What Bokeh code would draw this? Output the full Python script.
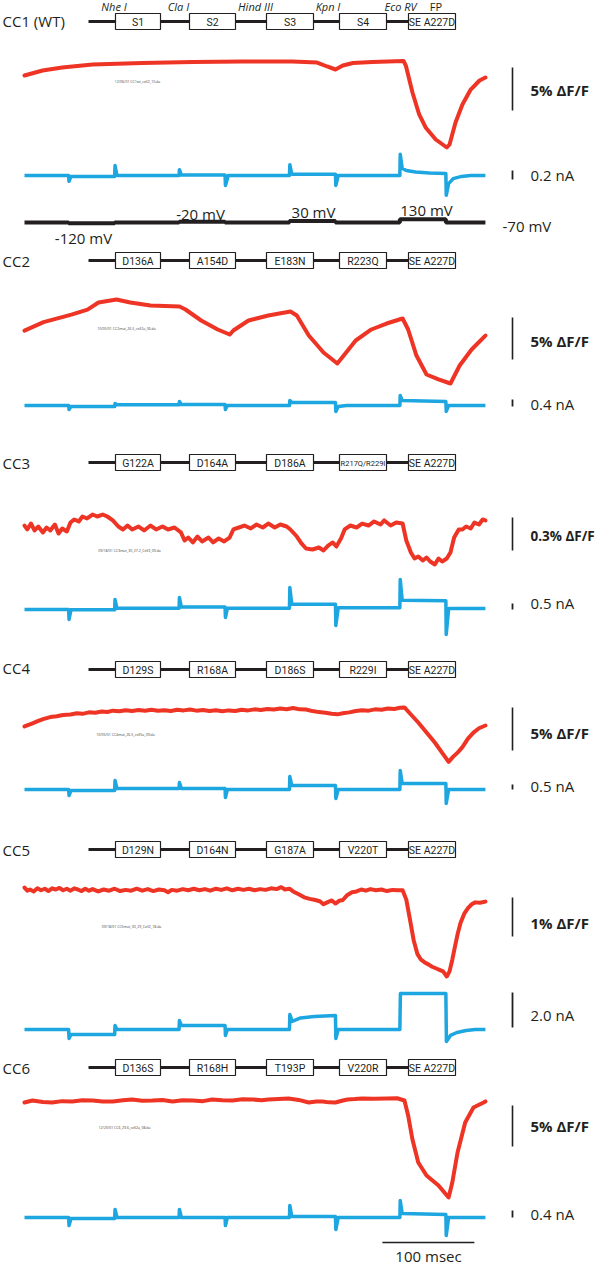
from bokeh.plotting import figure
from bokeh.models import Range1d
from bokeh.embed import file_html
from bokeh.resources import INLINE
from bokeh.core.properties import value

# ------------------------------------------------------------------ data
# voltage protocol (ms boundaries, mV levels)
step_t = [0, 48, 98, 168, 218, 288, 338, 408, 458, 501]
step_mV = [-70, -120, -70, -20, -70, 30, -70, 130, -70]
step_labels = ["-120 mV", "-20 mV", "30 mV", "130 mV", "-70 mV"]

titles = ["CC1 (WT)", "CC2", "CC3", "CC4", "CC5", "CC6"]
sites = ["Nhe I", "Cla I", "Hind III", "Kpn I", "Eco RV", "FP"]
boxes = [
    ["S1", "S2", "S3", "S4", "SE A227D"],
    ["D136A", "A154D", "E183N", "R223Q", "SE A227D"],
    ["G122A", "D164A", "D186A", "R217Q/R229I", "SE A227D"],
    ["D129S", "R168A", "D186S", "R229I", "SE A227D"],
    ["D129N", "D164N", "G187A", "V220T", "SE A227D"],
    ["D136S", "R168H", "T193P", "V220R", "SE A227D"],
]
dff_bar = [5, 5, 0.3, 5, 1, 5]          # %dF/F
dff_bar_txt = ["5% ΔF/F", "5% ΔF/F", "0.3% ΔF/F", "5% ΔF/F", "1% ΔF/F", "5% ΔF/F"]
nA_bar = [0.2, 0.4, 0.5, 0.5, 2.0, 0.4]
nA_bar_txt = ["0.2 nA", "0.4 nA", "0.5 nA", "0.5 nA", "2.0 nA", "0.4 nA"]
file_names = ["12/06/01 CC1wt_cell2_10.da", "10/05/01 CC2mut_26.5_cell2a_06.da",
              "09/18/01 CC3mut_30_27.2_Cell3_09.da", "10/05/01 CC4mut_26.5_cell5a_09.da",
              "09/18/01 CC5mut_30_29_Cell2_18.da", "12/20/01 CC6_29.6_cell2a_08.da"]

# fluorescence traces (ms, %dF/F)
cc1_t = [0, 19.6, 41, 74, 128, 183, 237, 291, 318, 329, 338, 346, 357, 378, 412, 414.5,
         421.7, 429, 436, 447, 459, 462, 468.5, 476, 485, 494.6, 501]
cc1_dff = [-1.63, -1.05, -0.70, -0.35, -0.17, -0.06, 0.0, 0.0, -0.12, -0.58, -0.93, -0.47,
           -0.17, -0.06, 0.06, -0.47, -3.6, -6.16, -7.67, -9.07, -10.0, -9.65, -7.09, -5.0,
           -3.26, -2.21, -1.86]

cc2_t = [0, 20.7, 51, 68.5, 80.4, 100, 115, 137, 168.5, 175, 192, 210, 223, 227, 243.5, 265,
         289, 296, 309, 325, 340, 347, 360, 377, 393.5, 411, 417, 426, 437, 450, 463, 473, 486, 501]
cc2_dff = [-3.7, -2.7, -1.8, -1.2, -0.36, 0, -0.36, -0.71, -0.83, -1.19, -2.5, -3.57, -4.17,
           -3.69, -2.5, -1.9, -1.43, -1.9, -4.29, -6.31, -7.62, -6.67, -4.88, -3.57, -2.86,
           -2.26, -3.57, -6.67, -8.93, -9.52, -10.0, -7.86, -5.95, -4.29]

cc3_t = [0, 3, 7, 11, 15, 20, 24, 28, 33, 37, 41, 46, 50, 54, 59, 63, 68, 74, 79, 85,
         90, 96, 102, 107, 112, 117, 124, 130, 137, 143, 150, 156, 163, 170, 174, 178, 183, 188, 193, 200,
         205, 211, 217, 223, 227, 233, 239, 246, 252, 259, 265, 272, 278, 285, 289, 296, 301, 306, 313, 320,
         325, 330, 335, 339, 344, 348, 354, 361, 367, 374, 380, 387, 391, 398, 404, 411, 415, 420, 424, 428,
         433, 437, 441, 446, 450, 454, 459, 463, 467, 472, 476, 480, 485, 489, 494, 498, 501]
cc3_dff = [0.018, -0.018, 0.036, -0.027, 0.009, -0.045, 0.0, -0.027, 0.027, -0.055,
           -0.009, -0.036, 0.045, 0.073, 0.055, 0.1, 0.082, 0.118, 0.1, 0.118,
           0.1, 0.064, 0.009, -0.018, 0.018, -0.018, 0.009, -0.027, 0.018, -0.018,
           0.009, -0.018, 0.0, -0.045, -0.118, -0.091, -0.136, -0.082, -0.127, -0.091,
           -0.136, -0.1, -0.127, -0.091, -0.018, 0.0, 0.018, -0.009, 0.027, 0.0,
           0.036, 0.0, 0.027, 0.009, -0.018, -0.082, -0.145, -0.191, -0.2, -0.182,
           -0.209, -0.164, -0.136, -0.173, -0.1, -0.018, 0.018, 0.0, 0.036, 0.018,
           0.055, 0.027, 0.064, 0.018, 0.045, 0.036, -0.118, -0.227, -0.282, -0.264,
           -0.3, -0.273, -0.309, -0.336, -0.282, -0.309, -0.282, -0.227, -0.091, -0.018,
           -0.018, 0.009, -0.009, 0.045, 0.027, 0.073, 0.064]

cc4_t = [0, 8, 15, 21, 28, 35, 42, 50, 57, 63, 70, 77, 84, 90, 96, 103, 110, 117, 124, 131,
         138, 145, 152, 159, 166, 173, 180, 187, 194, 201, 208, 215, 222, 229, 236, 243, 250, 257, 264, 271,
         278, 285, 292, 299, 306, 313, 320, 327, 334, 340, 346, 353, 360, 367, 374, 381, 388, 395, 402, 408,
         413, 420, 428, 437, 446, 455, 461, 466, 471, 476, 482, 488, 494, 501]
cc4_dff = [-2.09, -1.75, -1.45, -1.2, -1.0, -0.9, -0.75, -0.7, -0.55, -0.62,
           -0.45, -0.5, -0.35, -0.4, -0.25, -0.32, -0.2, -0.28, -0.18, -0.25,
           -0.15, -0.27, -0.2, -0.28, -0.15, -0.22, -0.12, -0.25, -0.18, -0.3,
           -0.2, -0.32, -0.22, -0.3, -0.15, -0.22, -0.1, -0.18, -0.05, -0.12,
           0.0, -0.08, 0.05, -0.1, -0.12, -0.3, -0.42, -0.5, -0.62, -0.68,
           -0.55, -0.45, -0.3, -0.2, -0.25, -0.1, -0.15, 0.0, -0.05, 0.08,
           0.12, -0.7, -1.63, -2.8, -3.95, -5.3, -6.2, -5.6, -5.1, -4.5,
           -3.5, -2.8, -2.3, -1.98]

cc5_t = [0, 3, 6, 10, 14, 18, 22, 26, 30, 34, 38, 42, 46, 50, 54, 58, 62, 66, 70, 74,
         80, 86, 92, 98, 104, 110, 116, 122, 128, 134, 140, 146, 152, 156, 160, 166, 172, 178, 184, 190,
         196, 202, 208, 214, 220, 226, 232, 238, 244, 250, 256, 262, 268, 274, 279, 283, 288, 292, 298, 304,
         310, 316, 321, 325, 329, 334, 338, 342, 346, 351, 356, 361, 366, 371, 376, 382, 388, 394, 400, 406,
         411, 415, 419, 423, 427, 431, 435, 439, 443, 447, 451, 455, 459, 462, 465, 468, 471, 474, 478, 482,
         486, 490, 495, 501]
cc5_dff = [0.05, -0.03, 0.0, -0.05, 0.03, -0.02, 0.02, -0.04, 0.03, 0.0,
           0.04, -0.02, 0.02, -0.03, 0.03, 0.0, -0.04, 0.02, -0.03, 0.01,
           -0.05, 0.0, -0.03, 0.02, -0.04, -0.01, -0.03, 0.02, -0.03, 0.01,
           -0.04, 0.0, -0.02, -0.07, -0.01, -0.03, 0.01, -0.02, 0.02, -0.02,
           0.01, -0.03, 0.02, -0.01, 0.03, -0.02, 0.02, -0.01, 0.02, -0.02,
           0.01, -0.01, 0.03, 0.01, 0.06, 0.0, 0.02, -0.05, -0.12, -0.2,
           -0.24, -0.27, -0.3, -0.38, -0.33, -0.28, -0.36, -0.29, -0.27, -0.14,
           -0.07, -0.05, 0.0, -0.03, 0.01, -0.02, 0.0, -0.04, -0.01, -0.02,
           -0.02, -0.26, -0.77, -1.3, -1.65, -1.8, -1.87, -1.92, -1.98, -2.02,
           -2.06, -2.1, -2.23, -2.1, -1.8, -1.45, -1.12, -0.85, -0.62, -0.48,
           -0.38, -0.33, -0.34, -0.31]

cc6_t = [0, 8.7, 20, 30, 41, 52, 63, 74, 85, 96, 107, 117, 128, 139, 150, 161, 172, 183, 194, 204,
         215, 226, 237, 248, 258, 265, 276, 287, 298, 309, 317, 324, 331, 338, 345, 351, 359, 367, 380, 393.5,
         405, 413, 417, 421.7, 428, 437, 450, 461, 465, 470.7, 479, 488, 499, 501]
cc6_dff = [-0.37, -0.12, -0.3, -0.37, -0.2, -0.24, -0.1, -0.12, -0.25, -0.24,
           -0.1, 0.0, -0.15, -0.12, -0.05, -0.24, -0.1, -0.12, -0.2, 0.0,
           -0.1, -0.12, 0.02, 0.0, -0.1, 0.0, 0.05, 0.12, -0.05, -0.37,
           -0.25, -0.24, -0.35, -0.37, -0.15, 0.0, 0.05, 0.12, 0.1, 0.12,
           0.15, -0.12, -1.95, -4.88, -7.68, -9.27, -10.49, -11.95, -10.12, -6.46,
           -2.80, -0.98, -0.37, -0.24]

# current traces (ms, nA)
cc1_it = [0, 48, 48.4, 50.5, 98, 98.4, 100.5, 168, 168.4, 170.5, 218, 218.4, 221.5, 288, 288.4,
          290.5, 338, 338.4, 341, 408, 408.4, 410.5, 415, 425, 440, 458, 458.4, 461, 466, 475, 485, 501]
cc1_nA = [0, 0, -0.13, -0.02, -0.02, 0.22, 0, 0, 0.13, 0.01, 0.01, -0.22, 0, 0, 0.24,
          0.03, 0.03, -0.22, 0, 0, 0.47, 0.16, 0.11, 0.08, 0.055, 0.045, -0.44, -0.18, -0.07, -0.02, 0, 0]
cc2_it = [0, 48, 48.4, 50.5, 98, 98.4, 100.5, 168, 168.4, 170.5, 218, 218.4, 220.5, 288, 288.4,
          290.5, 338, 338.4, 341, 350, 408, 408.4, 410.5, 458, 458.4, 461, 501]
cc2_nA = [0, 0, -0.23, -0.06, -0.06, 0.11, 0.04, 0.04, 0.23, 0.06, 0.06, -0.23, 0, 0, 0.29,
          0.17, 0.17, -0.34, -0.06, 0, 0, 0.57, 0.29, 0.23, -0.34, 0, 0]
cc3_it = [0, 48, 48.4, 50.5, 98, 98.4, 100.5, 168, 168.4, 170.5, 218, 218.4, 220.5, 288, 288.4,
          290.5, 338, 338.4, 341, 408, 408.4, 410.5, 458, 458.4, 461, 501]
cc3_nA = [0, 0, -0.83, -0.03, -0.03, 0.83, 0.1, 0.1, 1.0, 0.2, 0.2, -0.67, 0.1, 0.1, 1.83,
          0.44, 0.44, -1.33, 0.14, 0.14, 2.5, 0.78, 0.72, -2.08, 0.08, 0.08]
cc4_it = list(cc3_it)
cc4_nA = [0, 0, -0.6, -0.1, -0.1, 0.9, 0.1, 0.1, 0.7, 0.1, 0.1, -0.8, 0, 0, 1.3,
          0.4, 0.4, -0.9, 0, 0, 1.9, 0.6, 0.6, -1.4, 0, 0]
cc5_it = [0, 48, 48.4, 50.5, 98, 98.4, 100.5, 168, 168.4, 170.5, 218, 218.4, 220.5, 288, 288.4,
          291, 300, 315, 338, 338.4, 341, 408, 408.6, 458, 458.6, 463, 470, 480, 490, 501]
cc5_nA = [0, 0, -0.51, -0.29, -0.29, 0.23, 0, 0, 0.51, 0.23, 0.23, -0.34, 0, 0, 0.86,
          0.46, 0.66, 0.74, 0.8, -0.51, 0, 0, 2.06, 2.06, -0.69, -0.34, -0.17, -0.06, 0, 0]
cc6_it = list(cc3_it)
cc6_nA = [0, 0, -0.46, -0.06, -0.06, 0.46, 0, 0, 0.46, 0, 0, -0.46, 0, 0, 0.69,
          0.06, 0.06, -0.69, 0, 0, 0.97, 0.23, 0.17, -1.03, 0, 0]

red_traces = [(cc1_t, cc1_dff), (cc2_t, cc2_dff), (cc3_t, cc3_dff),
              (cc4_t, cc4_dff), (cc5_t, cc5_dff), (cc6_t, cc6_dff)]
blue_traces = [(cc1_it, cc1_nA), (cc2_it, cc2_nA), (cc3_it, cc3_nA),
               (cc4_it, cc4_nA), (cc5_it, cc5_nA), (cc6_it, cc6_nA)]
time_bar_ms = 100

# ------------------------------------------------------------------ layout (page px)
W, H = 600, 1264
TOP, LEFT = 8, 8
T0_X, PX_PER_MS = 32, 0.92
title_x = 10
title_y = [28, 268, 470, 675, 857, 1075]
construct_y = [29, 268, 470, 677, 857, 1075]
site_y = 14
red_y0 = [69, 307, 535, 716, 897, 1107]
red_gain = [8.6, 8.4, 110, 8.6, 39, 8.2]          # px per %
red_bar_top = [75, 325, 525, 715, 905, 1113]
red_txt_y = [97, 348, 543, 740, 930, 1133]
red_txt_size = ["15px", "15px", "13.5px", "15px", "15px", "15px"]
blue_y0 = [183, 413, 617, 797, 1037, 1225]
blue_gain = [45, 17.5, 12, 10, 17.5, 17.5]        # px per nA
blue_bar_bot = [187, 414, 617, 797, 1035, 1225]
blue_txt_y = [182, 411, 610, 793, 1022, 1221]
volt_y0, volt_gain = 230, 0.016                   # px per mV
box_x = [(123, 168), (197, 243), (274, 321), (347, 394), (416, 463)]
line_x = (96, 463)
site_x = [121.5, 186, 263, 335.5, 408, 443.5]
fname_xy = [(145, 89), (134, 336), (137, 558), (133, 742), (139, 934), (132, 1135)]
tbar_y, tbar_txt_y = 1250, 1263

RED = "#EE3424"
BLUE = "#1EA6E0"
INK = "#231F20"
FONT = value("Open Sans")

p = figure(width=W, height=H, x_range=Range1d(LEFT, LEFT + W), y_range=Range1d(TOP + H, TOP),
           output_backend="svg", toolbar_location=None, min_border=0,
           x_axis_location=None, y_axis_location=None, outline_line_color=None)
p.xgrid.visible = False
p.ygrid.visible = False
p.background_fill_color = "white"
p.border_fill_color = "white"

p.extra_x_ranges = {"t": Range1d((LEFT - T0_X) / PX_PER_MS, (LEFT + W - T0_X) / PX_PER_MS)}


def yrange(y0, gain, offset=0.0):
    return Range1d(offset + (y0 - (TOP + H)) / gain, offset + (y0 - TOP) / gain)


yr = {"volt": yrange(volt_y0, volt_gain, step_mV[0])}
for i in range(6):
    yr[f"r{i}"] = yrange(red_y0[i], red_gain[i])
    yr[f"b{i}"] = yrange(blue_y0[i], blue_gain[i])
p.extra_y_ranges = yr


def txt(x, y, s, size="15px", align="left", style="normal", font=FONT, color=INK):
    p.text(x=[x], y=[y], text=[s], text_font=font, text_font_size=size, text_align=align,
           text_baseline="middle", text_font_style=style, text_color=color)


for i in range(6):
    # title and construct
    txt(title_x, title_y[i], titles[i])
    cy = construct_y[i]
    p.line(list(line_x), [cy, cy], line_width=3.2, line_color=INK)
    p.rect(x=[(a + b) / 2 for a, b in box_x], y=[cy] * 5, width=[b - a for a, b in box_x],
           height=16, fill_color="white", line_color=INK, line_width=1.2)
    for (a, b), lab in zip(box_x, boxes[i]):
        fs = "7.5px" if len(lab) > 9 else "10.5px"
        txt((a + b) / 2, cy + 0.5, lab, size=fs, align="center", font=value("Roboto"))

    # fluorescence
    t, v = red_traces[i]
    p.line(t, v, x_range_name="t", y_range_name=f"r{i}", line_color=RED, line_width=4,
           line_join="round", line_cap="round")
    vb = (red_y0[i] - red_bar_top[i]) / red_gain[i]
    p.segment(x0=[520], y0=[vb], x1=[520], y1=[vb - dff_bar[i]], y_range_name=f"r{i}",
              line_color=INK, line_width=1.6)
    txt(538, red_txt_y[i], dff_bar_txt[i], size=red_txt_size[i], style="bold")
    fx, fy = fname_xy[i]
    txt(fx, fy, file_names[i], size="3.5px", align="center", color="#444444")

    # current
    t, v = blue_traces[i]
    p.line(t, v, x_range_name="t", y_range_name=f"b{i}", line_color=BLUE, line_width=3.5,
           line_join="round")
    bb = (blue_y0[i] - blue_bar_bot[i]) / blue_gain[i]
    p.segment(x0=[520], y0=[bb], x1=[520], y1=[bb + nA_bar[i]], y_range_name=f"b{i}",
              line_color=INK, line_width=1.8)
    txt(538, blue_txt_y[i], nA_bar_txt[i])

# restriction sites
for x, s in zip(site_x, sites):
    txt(x, site_y, s, size="11px", align="center", style="normal" if s == "FP" else "italic")

# voltage protocol
p.step(x=step_t, y=step_mV + [step_mV[-1]], mode="after", x_range_name="t", y_range_name="volt",
       line_color=INK, line_width=4)
txt(91, 245, step_labels[0], align="center")
txt(208, 221, step_labels[1], align="center")
txt(321, 219, step_labels[2], align="center")
txt(434, 217, step_labels[3], align="center")
txt(510, 233, step_labels[4])

# time scale bar
p.segment(x0=[389], y0=[tbar_y], x1=[389 + time_bar_ms], y1=[tbar_y], x_range_name="t",
          line_color=INK, line_width=1.6)
txt(436, tbar_txt_y, f"{time_bar_ms} msec", align="center")

open("out.html", "w").write(file_html(p, INLINE))
